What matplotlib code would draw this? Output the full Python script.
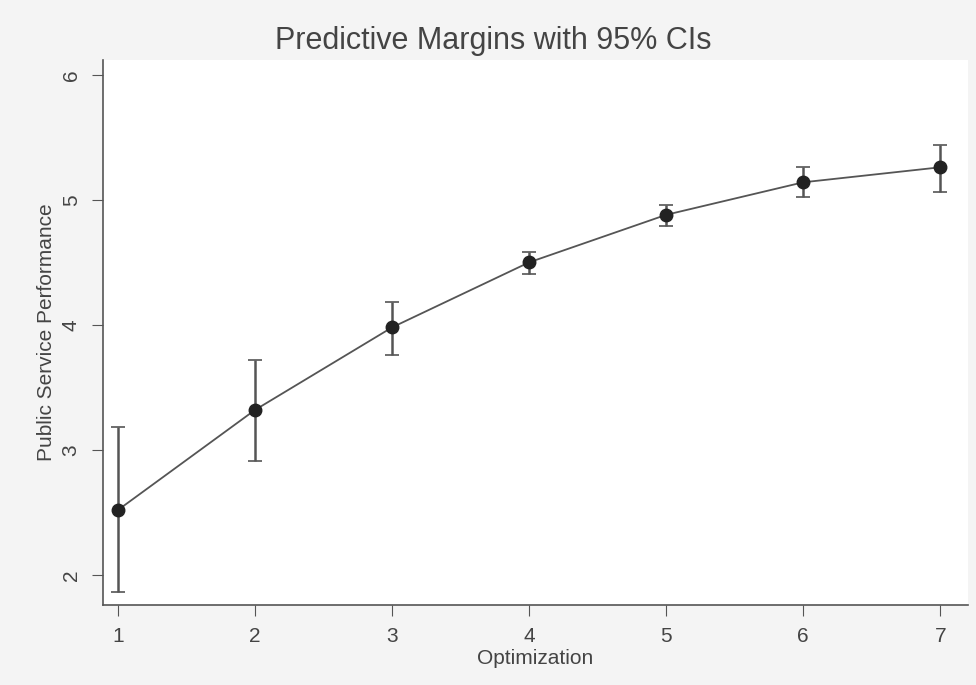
import numpy as np
import matplotlib.pyplot as plt

plt.rcParams['font.family'] = ['Liberation Sans', 'DejaVu Sans']

optimization = [1, 2, 3, 4, 5, 6, 7]
margin = [2.52, 3.32, 3.98, 4.50, 4.88, 5.14, 5.26]
ci_low = [1.86, 2.91, 3.76, 4.41, 4.79, 5.02, 5.06]
ci_high = [3.18, 3.72, 4.18, 4.58, 4.96, 5.26, 5.44]

margin = np.array(margin)
yerr = [margin - np.array(ci_low), np.array(ci_high) - margin]

fig = plt.figure(figsize=(9.76, 6.85), dpi=100, facecolor='#f4f4f4')
ax = fig.add_axes([0.1055, 0.1168, 0.886, 0.796])
ax.set_facecolor('white')

ax.errorbar(optimization, margin, yerr=yerr, fmt='none', ecolor='#555555',
            elinewidth=1.8, capsize=5, capthick=1.2)
ax.plot(optimization, margin, color='#555555', lw=1.3)
ax.plot(optimization, margin, 'o', color='#222222', ms=9)

ax.set_xlim(0.89, 7.2)
ax.set_ylim(1.76, 6.12)
ax.set_xticks(optimization)
ax.set_yticks([2, 3, 4, 5, 6])
for lab in ax.get_yticklabels():
    lab.set_rotation(90)
    lab.set_va('center')
ax.tick_params(labelsize=15, color='#555555', labelcolor='#444444', length=8, pad=8)

for s in ['top', 'right']:
    ax.spines[s].set_visible(False)
for s in ['left', 'bottom']:
    ax.spines[s].set_color('#555555')
    ax.spines[s].set_linewidth(1.2)

ax.set_xlabel('Optimization', fontsize=15, color='#444444', labelpad=2)
ax.set_ylabel('Public Service Performance', fontsize=15, color='#444444', labelpad=4)
fig.suptitle('Predictive Margins with 95% CIs', fontsize=22, color='#444444',
             x=0.505, y=0.962)

fig.savefig('out.png', dpi=100, facecolor=fig.get_facecolor())
